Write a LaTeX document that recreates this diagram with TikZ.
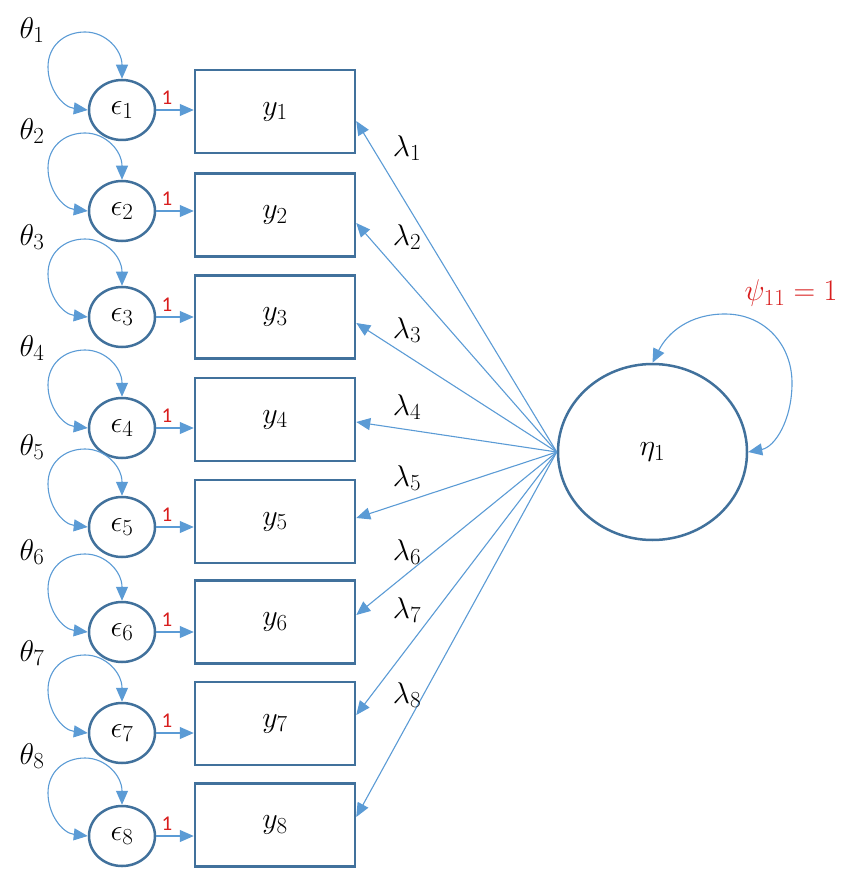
\RequirePackage{fix-cm}
\documentclass[tikz,border=0pt]{standalone}
\usepackage{fontspec}
\newfontfamily\calib{Carlito}
\DeclareMathSizes{30}{30}{23}{18}
\usetikzlibrary{arrows.meta,shapes.geometric,calc}
\definecolor{bord}{HTML}{41719C}
\definecolor{arr}{HTML}{5B9BD5}
\definecolor{redl}{HTML}{D81E1E}
\begin{document}
\begin{tikzpicture}[x=1pt,y=-1pt,
  box/.style={draw=bord,line width=2.5pt,minimum width=160pt,minimum height=83pt,inner sep=0pt,font=\fontsize{30}{34}\selectfont},
  err/.style={ellipse,draw=bord,line width=2.5pt,minimum width=66pt,minimum height=60pt,inner sep=0pt,font=\fontsize{30}{34}\selectfont},
  lat/.style={ellipse,draw=bord,line width=2.5pt,minimum width=189pt,minimum height=176pt,inner sep=0pt,font=\fontsize{30}{34}\selectfont},
  con/.style={draw=arr,line width=1.1pt,-{Triangle[length=14pt,width=12pt]}},
  lp/.style={draw=arr,line width=1.1pt,{Triangle[length=14pt,width=12pt]}-{Triangle[length=14pt,width=12pt]}},
  lab/.style={font=\fontsize{30}{34}\selectfont,inner sep=0pt},
  one/.style={text=redl,font=\calib\fontsize{21}{24}\selectfont,inner sep=0pt}
]
\useasboundingbox (0,0) rectangle (859,882);
\node[lat] (eta) at (652.5,452) {\raisebox{-4pt}{$\eta_1$}};
\foreach \i/\by/\ey/\sh/\ly in {1/111.5/110/-9.5/148, 2/215/211/-8/237, 3/317/317/-6/330, 4/419.5/428/-2.5/407, 5/521.5/527/3.5/478, 6/622/632/7/552, 7/723.5/733/8.5/610, 8/825/836/8/695}{
  \node[box] (b\i) at (275,\by) {\raisebox{-5pt}{$y_{\i}$}};
  \node[err] (e\i) at (122,\ey) {\raisebox{-3pt}{$\epsilon_{\i}$}};
  \node[lab] (t\i) at (32,\ey-80) {$\theta_{\i}$};
  \draw[con] (e\i.east) -- (e\i.east -| b\i.west);
  \node[one] (o\i) at ($(e\i)+(45,-12)$) {1};
  \draw[lp] (e\i.west) .. controls ($(e\i)+(-60,-3)$) and ($(e\i)+(-74,-22)$) .. ($(e\i)+(-74,-43)$)
     .. controls ($(e\i)+(-74,-64)$) and ($(e\i)+(-58,-78)$) .. ($(e\i)+(-37,-78)$)
     .. controls ($(e\i)+(-16,-78)$) and ($(e\i)+(0,-60)$) .. (e\i.north);
  \draw[con] (eta.west) -- ([yshift=\sh pt]b\i.east);
  \node[lab] (l\i) at (407,\ly) {$\lambda_{\i}$};
}
\draw[lp] (eta.north) .. controls (668,332) and (690,314) .. (725,314)
   .. controls (765,314) and (792,345) .. (792,383)
   .. controls (792,420) and (775,447) .. (eta.east);
\node[lab,text=redl] (psi) at (791,293) {$\psi_{11}=1$};
\end{tikzpicture}
\end{document}
